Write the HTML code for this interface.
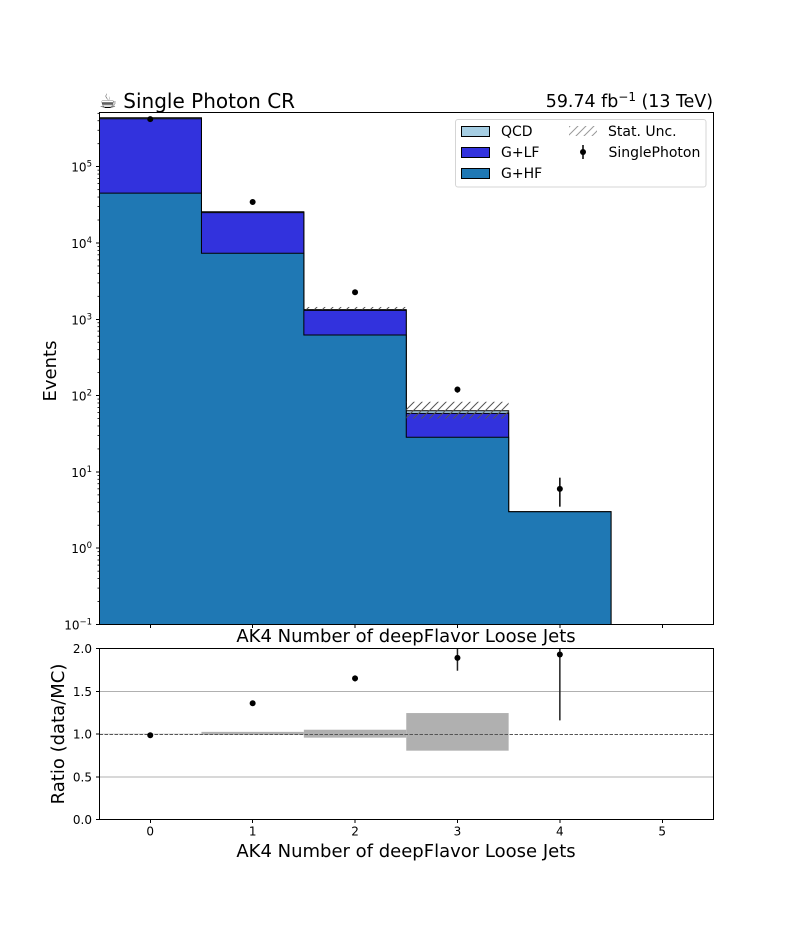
<!DOCTYPE html>
<html>
<head>
<meta charset="utf-8">
<title>Single Photon CR</title>
<style>
html,body{margin:0;padding:0;background:#fff;width:792px;height:936px;overflow:hidden}
svg{display:block}
text{font-family:"DejaVu Sans","Liberation Sans",sans-serif;fill:#000}
</style>
</head>
<body>
<svg id="fig" width="792" height="936" viewBox="0 0 792 936" xmlns="http://www.w3.org/2000/svg">
<defs>
<pattern id="hatch" patternUnits="userSpaceOnUse" width="8" height="8">
<path d="M-1 1L1 -1M0 8L8 0M7 9L9 7" stroke="#555" stroke-width="1"/>
</pattern>
<pattern id="hatchLegend" patternUnits="userSpaceOnUse" width="8" height="8">
<path d="M-1 1L1 -1M0 8L8 0M7 9L9 7" stroke="#999" stroke-width="1"/>
</pattern>
<clipPath id="mainClip"><rect x="99.5" y="112.5" width="614" height="512"/></clipPath>
<clipPath id="ratioClip"><rect x="99.5" y="648.5" width="614" height="171"/></clipPath>
</defs>
<rect width="792" height="936" fill="#fff"/>
<g id="mainMarks" clip-path="url(#mainClip)"></g>
<g id="ratioMarks" clip-path="url(#ratioClip)"></g>
<g id="axisTicks"></g>
<rect x="99.5" y="112.5" width="614" height="512" fill="none" stroke="#000" stroke-width="1"/>
<rect x="99.5" y="648.5" width="614" height="171" fill="none" stroke="#000" stroke-width="1"/>

<text x="99" y="108" font-size="20">☕ Single Photon CR</text>
<text x="713" y="107" font-size="17.4" text-anchor="end">59.74 fb<tspan dy="-6" font-size="12">−1</tspan><tspan dy="6"> (13 TeV)</tspan></text>
<text x="406" y="642" font-size="18" text-anchor="middle">AK4 Number of deepFlavor Loose Jets</text>
<text x="406" y="857" font-size="18" text-anchor="middle">AK4 Number of deepFlavor Loose Jets</text>
<text transform="translate(56,371) rotate(-90)" font-size="18" text-anchor="middle">Events</text>
<text transform="translate(64,734) rotate(-90)" font-size="18" text-anchor="middle">Ratio (data/MC)</text>

<g>
<rect x="455.5" y="119.5" width="250.5" height="67.5" rx="2.5" fill="#fff" fill-opacity="0.85" stroke="#d5d5d5" stroke-width="1"/>
<rect x="461.5" y="126.5" width="28" height="10" fill="#a6cee3" stroke="#000" stroke-width="1"/>
<text x="501" y="136" font-size="14">QCD</text>
<rect x="461.5" y="147.5" width="28" height="10" fill="#3232dd" stroke="#000" stroke-width="1"/>
<text x="501" y="157" font-size="14">G+LF</text>
<rect x="461.5" y="168.5" width="28" height="10" fill="#1f78b4" stroke="#000" stroke-width="1"/>
<text x="501" y="178" font-size="14">G+HF</text>
<rect x="569" y="126" width="28" height="10" fill="url(#hatchLegend)"/>
<text x="608" y="136" font-size="14">Stat. Unc.</text>
<line x1="583" x2="583" y1="145" y2="159" stroke="#000" stroke-width="1.5"/>
<circle cx="583" cy="152" r="3" fill="#000"/>
<text x="608.5" y="157" font-size="14">SinglePhoton</text>
</g>
</svg>
<script>
// Chart data
var binCenters = [0, 1, 2, 3, 4, 5];
var hfValues = [45000, 7330, 622, 28.4, 3.0, 0];
var lfValues = [380000, 17670, 688, 30.1, 0, 0];
var qcdValues = [12000, 700, 30, 4.9, 0, 0];
var statUp = [0, 0, 1450, 83, 0, 0];
var statDown = [0, 0, 1340, 50, 0, 0];
var dataValues = [420000, 34500, 2260, 120, 6];
var dataErrLow = [650, 186, 48, 11, 2.5];
var dataErrHigh = [650, 186, 48, 11, 2.4];
var ratioValues = [0.985, 1.36, 1.65, 1.89, 1.93];
var ratioErrLow = [0.002, 0.008, 0.035, 0.15, 0.77];
var ratioErrHigh = [0.002, 0.008, 0.035, 0.17, 0.8];
var bandLow = [0.997, 0.99, 0.957, 0.805, 1];
var bandHigh = [1.003, 1.025, 1.05, 1.245, 1];
var xTickLabels = ["0", "1", "2", "3", "4", "5"];
var logTickExponents = [-1, 0, 1, 2, 3, 4, 5];
var ratioTickLabels = ["0.0", "0.5", "1.0", "1.5", "2.0"];
var ratioTickValues = [0, 0.5, 1, 1.5, 2];
var ratioGridValues = [0.5, 1.5];

var NS = "http://www.w3.org/2000/svg";
var X0 = 99.5, X1 = 713.5, Y0 = 624.5, Y1 = 112.5, R0 = 819.5, R1 = 648.5;
var LOGMIN = -1, LOGMAX = 5.71;

function xScale(v) { return 150.25 + 102.4 * v; }
function yScale(v) {
  var lv = v > 0 ? Math.log10(v) : LOGMIN - 0.2;
  return Y0 + (lv - LOGMIN) / (LOGMAX - LOGMIN) * (Y1 - Y0);
}
function rScale(v) { return R0 + v / 2 * (R1 - R0); }
function make(tag, attrs, parent) {
  var e = document.createElementNS(NS, tag);
  for (var k in attrs) e.setAttribute(k, attrs[k]);
  parent.appendChild(e);
  return e;
}
function stepPath(vals) {
  var d = "M" + xScale(-0.5) + " " + (Y0 + 20);
  for (var i = 0; i < vals.length; i++) {
    var y = yScale(vals[i]);
    d += "L" + xScale(binCenters[i] - 0.5) + " " + y + "L" + xScale(binCenters[i] + 0.5) + " " + y;
  }
  d += "L" + xScale(binCenters[vals.length - 1] + 0.5) + " " + (Y0 + 20) + "Z";
  return d;
}

var main = document.getElementById("mainMarks");
var ratio = document.getElementById("ratioMarks");
var ticks = document.getElementById("axisTicks");

var stackLf = hfValues.map(function (v, i) { return v + lfValues[i]; });
var stackQcd = stackLf.map(function (v, i) { return v + qcdValues[i]; });

var qcdStep = make("path", { d: stepPath(stackQcd), fill: "#a6cee3", stroke: "#000", "stroke-width": 1 }, main);


var lfStep = make("path", { d: stepPath(stackLf), fill: "#3232dd", stroke: "#000", "stroke-width": 1 }, main);


var hfStep = make("path", { d: stepPath(hfValues), fill: "#1f78b4", stroke: "#000", "stroke-width": 1 }, main);



statUp.forEach(function (up, i) {
  if (up <= 0) return;
  var yTop = yScale(up), yBottom = yScale(statDown[i]);
  var band = make("rect", { x: xScale(binCenters[i] - 0.5), y: yTop, width: xScale(binCenters[i] + 0.5) - xScale(binCenters[i] - 0.5), height: yBottom - yTop, fill: "url(#hatch)" }, main);
  
  
});

dataValues.forEach(function (v, i) {
  var bar = make("line", { x1: xScale(binCenters[i]), x2: xScale(binCenters[i]), y1: yScale(v + dataErrHigh[i]), y2: yScale(v - dataErrLow[i]), stroke: "#000", "stroke-width": 1.5 }, main);
  
  
  var pt = make("circle", { cx: xScale(binCenters[i]), cy: yScale(v), r: 3, fill: "#000" }, main);
  
  
});

ratioGridValues.forEach(function (v) {
  var g = make("line", { x1: X0, x2: X1, y1: rScale(v), y2: rScale(v), stroke: "#b0b0b0", "stroke-width": 1, "shape-rendering": "crispEdges" }, ratio);
  
  
});

bandLow.forEach(function (low, i) {
  if (bandHigh[i] <= low) return;
  var b = make("rect", { x: xScale(binCenters[i] - 0.5), y: rScale(bandHigh[i]), width: xScale(binCenters[i] + 0.5) - xScale(binCenters[i] - 0.5), height: rScale(low) - rScale(bandHigh[i]), fill: "#b0b0b0" }, ratio);
  
  
});

var unity = make("line", { x1: X0, x2: X1, y1: rScale(1) + 0.5, y2: rScale(1) + 0.5, stroke: "#555", "stroke-width": 1, "stroke-dasharray": "3.5 1.5" }, ratio);



ratioValues.forEach(function (v, i) {
  var bar = make("line", { x1: xScale(binCenters[i]), x2: xScale(binCenters[i]), y1: rScale(v + ratioErrHigh[i]), y2: rScale(v - ratioErrLow[i]), stroke: "#222", "stroke-width": 1.5 }, ratio);
  
  
  var pt = make("circle", { cx: xScale(binCenters[i]), cy: rScale(v), r: 3, fill: "#000" }, ratio);
  
  
});

// X ticks on both panels, labels on ratio panel
xTickLabels.forEach(function (lab, i) {
  var x = xScale(binCenters[i]);
  var t1 = make("line", { x1: x, x2: x, y1: Y0, y2: Y0 + 3.5, stroke: "#000", "stroke-width": 1, "shape-rendering": "crispEdges" }, ticks);
  
  
  var t2 = make("line", { x1: x, x2: x, y1: R0, y2: R0 + 3.5, stroke: "#000", "stroke-width": 1, "shape-rendering": "crispEdges" }, ticks);
  
  
  var tx = make("text", { x: x, y: R0 + 16, "font-size": 12, "text-anchor": "middle" }, ticks);
  
  
  tx.textContent = lab;
});

// Log y ticks
logTickExponents.forEach(function (ex) {
  var y = yScale(Math.pow(10, ex));
  var t = make("line", { x1: X0 - 3.5, x2: X0, y1: y, y2: y, stroke: "#000", "stroke-width": 1, "shape-rendering": "crispEdges" }, ticks);
  
  
  var tx = make("text", { x: 92, y: y + 5, "font-size": 12, "text-anchor": "end" }, ticks);
  
  
  var base = make("tspan", {}, tx);
  base.textContent = "10";
  var sup = make("tspan", { dy: -5, "font-size": 8.5 }, tx);
  sup.textContent = ex < 0 ? "−" + (-ex) : String(ex);
  for (var m = 2; m <= 9; m++) {
    var yy = yScale(m * Math.pow(10, ex));
    if (yy < Y1) continue;
    var mt = make("line", { x1: X0 - 2, x2: X0, y1: yy, y2: yy, stroke: "#000", "stroke-width": 0.8 }, ticks);
    
    
  }
});

// Ratio y ticks
ratioTickLabels.forEach(function (lab, i) {
  var y = rScale(ratioTickValues[i]);
  var t = make("line", { x1: X0 - 3.5, x2: X0, y1: y, y2: y, stroke: "#000", "stroke-width": 1, "shape-rendering": "crispEdges" }, ticks);
  
  
  var tx = make("text", { x: 92, y: y + 4.5, "font-size": 12, "text-anchor": "end" }, ticks);
  
  
  tx.textContent = lab;
});
</script>
</body>
</html>
